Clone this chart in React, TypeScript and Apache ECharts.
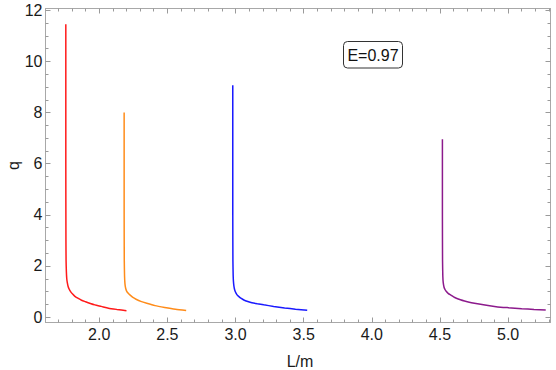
import React, { useEffect, useRef } from "react";
import * as echarts from "echarts";

// Curve data (L/m, q)
const redL = [1.755, 1.755, 1.756, 1.757, 1.759, 1.762, 1.766, 1.772, 1.780, 1.790, 1.805, 1.822, 1.843, 1.870, 1.900, 1.935, 1.968, 2.015, 2.068, 2.130, 2.200];
const redQ = [11.45, 6.0, 3.0, 2.2, 1.8, 1.5, 1.35, 1.2, 1.09, 1.0, 0.90, 0.81, 0.74, 0.66, 0.60, 0.535, 0.48, 0.42, 0.35, 0.30, 0.25];

const orangeL = [2.183, 2.183, 2.184, 2.186, 2.189, 2.194, 2.202, 2.213, 2.227, 2.247, 2.270, 2.305, 2.349, 2.410, 2.480, 2.560, 2.638];
const orangeQ = [8.0, 4.0, 2.2, 1.6, 1.3, 1.13, 1.01, 0.93, 0.86, 0.77, 0.70, 0.615, 0.54, 0.45, 0.38, 0.31, 0.26];

const blueL = [2.980, 2.980, 2.981, 2.983, 2.986, 2.991, 2.998, 3.010, 3.025, 3.042, 3.061, 3.090, 3.120, 3.160, 3.207, 3.280, 3.360, 3.440, 3.526];
const blueQ = [9.07, 4.0, 2.2, 1.6, 1.32, 1.13, 1.0, 0.88, 0.80, 0.73, 0.67, 0.61, 0.56, 0.52, 0.48, 0.42, 0.36, 0.31, 0.27];

const purpleL = [4.518, 4.518, 4.519, 4.521, 4.524, 4.530, 4.538, 4.547, 4.562, 4.580, 4.600, 4.620, 4.650, 4.680, 4.715, 4.753, 4.830, 4.912, 5.000, 5.100, 5.190, 5.276];
const purpleQ = [6.96, 4.0, 2.2, 1.6, 1.35, 1.17, 1.07, 1.0, 0.92, 0.86, 0.79, 0.74, 0.68, 0.63, 0.58, 0.54, 0.47, 0.41, 0.37, 0.33, 0.30, 0.28];

// Axis ticks
const xMajor = [2.0, 2.5, 3.0, 3.5, 4.0, 4.5, 5.0];
const xMinor = [1.7, 1.8, 1.9, 2.1, 2.2, 2.3, 2.4, 2.6, 2.7, 2.8, 2.9, 3.1, 3.2, 3.3, 3.4, 3.6, 3.7, 3.8, 3.9, 4.1, 4.2, 4.3, 4.4, 4.6, 4.7, 4.8, 4.9, 5.1, 5.2, 5.3];
const yMajor = [0, 2, 4, 6, 8, 10, 12];
const yMinor = [0.5, 1, 1.5, 2.5, 3, 3.5, 4.5, 5, 5.5, 6.5, 7, 7.5, 8.5, 9, 9.5, 10.5, 11, 11.5];

const X_MIN = 1.606;
const X_MAX = 5.311;
const Y_MIN = -0.21;
const Y_MAX = 12.07;

const annotation = "E=0.97";
const xName = "L/m";
const yName = "q";

const FONT = "'Liberation Sans', Arial, sans-serif";
const FRAME = "#a8a8a8";
const TICK = "#9a9a9a";

const zip = (xs: number[], ys: number[]) => xs.map((x, i) => [x, ys[i]]);

export default function App() {
  const ref = useRef<HTMLDivElement>(null);
  useEffect(() => {
    if (!ref.current) return;
    const chart = echarts.init(ref.current, undefined, { renderer: "svg" });

    const frameAxis = (pos: string, ticks: number[], len: number, line: boolean) => ({
      type: "value",
      position: pos,
      axisLine: { show: line, onZero: false, lineStyle: { color: FRAME, width: 1 } },
      axisTick: { show: true, inside: true, length: len, customValues: ticks, lineStyle: { color: TICK, width: 1 } },
      axisLabel: { show: false, customValues: ticks },
      splitLine: { show: false },
    });

    const xa = (pos: string, ticks: number[], len: number, line: boolean) => ({
      ...frameAxis(pos, ticks, len, line),
      min: X_MIN,
      max: X_MAX,
    });
    const ya = (pos: string, ticks: number[], len: number, line: boolean) => ({
      ...frameAxis(pos, ticks, len, line),
      min: Y_MIN,
      max: Y_MAX,
    });

    const xMain: any = xa("bottom", xMajor, 5, true);
    xMain.axisLabel = {
      show: true,
      customValues: xMajor,
      margin: 4,
      color: "#1a1a1a",
      fontSize: 16,
      fontFamily: FONT,
      formatter: (v: number) => v.toFixed(1),
    };
    xMain.name = xName;
    xMain.nameLocation = "middle";
    xMain.nameGap = 31;
    xMain.nameMoveOverlap = false;
    xMain.nameTextStyle = { color: "#1a1a1a", fontSize: 16, lineHeight: 16, fontFamily: FONT, padding: [0, 0, 0, 4] };

    const yMain: any = ya("left", yMajor, 5, true);
    yMain.axisLabel = {
      show: true,
      customValues: yMajor,
      margin: 3,
      color: "#1a1a1a",
      fontSize: 16,
      fontFamily: FONT,
      formatter: (v: number) => String(Math.round(v)),
    };
    yMain.name = yName;
    yMain.nameLocation = "middle";
    yMain.nameGap = 24;
    yMain.nameMoveOverlap = false;
    yMain.nameTextStyle = { color: "#1a1a1a", fontSize: 16, fontFamily: FONT };

    const mkSeries = (L: number[], Q: number[], color: string) => ({
      type: "line",
      data: zip(L, Q),
      xAxisIndex: 0,
      yAxisIndex: 0,
      showSymbol: false,
      symbol: "none",
      smooth: 0.2,
      lineStyle: { color, width: 1.5 },
      itemStyle: { color },
      clip: true,
    });

    chart.setOption({
      animation: false,
      backgroundColor: "#ffffff",
      grid: { left: 45.5, right: 5.5, top: 8.5, bottom: 47.5, containLabel: false, outerBoundsMode: "none" },
      xAxis: [
        xMain,
        xa("bottom", xMinor, 3, false),
        xa("top", xMajor, 5, true),
        xa("top", xMinor, 3, false),
      ],
      yAxis: [
        yMain,
        ya("left", yMinor, 3, false),
        ya("right", yMajor, 5, true),
        ya("right", yMinor, 3, false),
      ],
      series: [
        mkSeries(redL, redQ, "#ff1a1a"),
        mkSeries(orangeL, orangeQ, "#ff8c1a"),
        mkSeries(blueL, blueQ, "#1a1aff"),
        mkSeries(purpleL, purpleQ, "#8c1a8c"),
      ],
      graphic: [
        {
          type: "group",
          left: 343,
          top: 41,
          children: [
            {
              type: "rect",
              shape: { x: 0, y: 0, width: 59, height: 26.5, r: 4 },
              style: { fill: "#ffffff", stroke: "#333333", lineWidth: 1 },
            },
            {
              type: "text",
              x: 29.5,
              y: 13.5,
              style: {
                text: annotation,
                fontSize: 16,
                fontFamily: FONT,
                fill: "#111111",
                align: "center",
                verticalAlign: "middle",
                textAlign: "center",
                textVerticalAlign: "middle",
              },
            },
          ],
        },
      ],
    });
    return () => chart.dispose();
  }, []);

  return (
    <div
      ref={ref}
      style={{ position: "fixed", left: 0, top: 0, width: 556, height: 370, background: "#fff" }}
    />
  );
}
